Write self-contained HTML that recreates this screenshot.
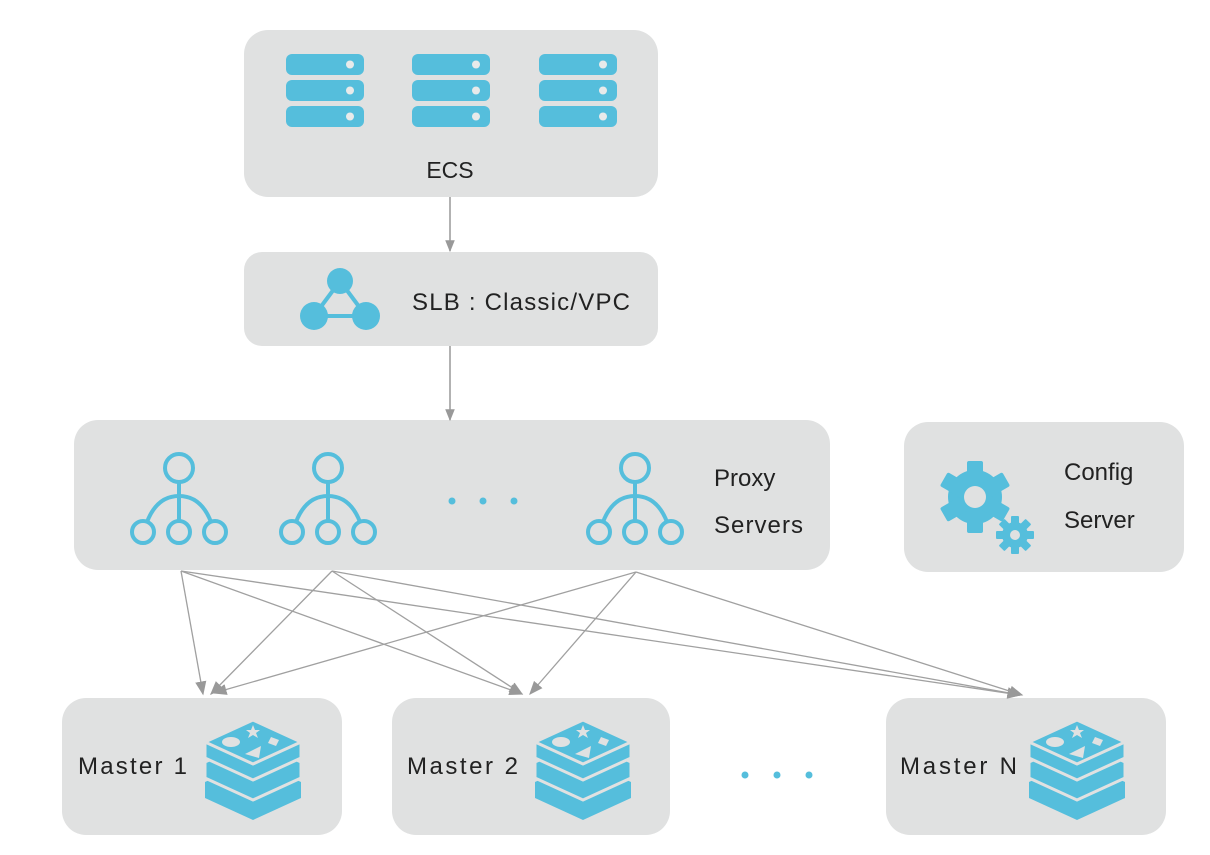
<!DOCTYPE html>
<html><head><meta charset="utf-8"><style>
body{margin:0;width:1210px;height:850px;background:#fff;overflow:hidden;font-family:"Liberation Sans",sans-serif}
</style></head><body>
<svg width="1210" height="850" viewBox="0 0 1210 850" xmlns="http://www.w3.org/2000/svg">
<defs>
<marker id="a" viewBox="0 0 10 10" refX="9" refY="5" markerWidth="12" markerHeight="12" orient="auto" markerUnits="userSpaceOnUse"><path d="M0,1L10,5L0,9z" fill="#999"/></marker>
<marker id="b" viewBox="0 0 10 10" refX="9" refY="5" markerWidth="14" markerHeight="14" orient="auto" markerUnits="userSpaceOnUse"><path d="M0,1L10,5L0,9z" fill="#999"/></marker>
<g id="srv"><rect x="0" y="0" width="78" height="21" rx="6" fill="#55bedc"/><circle cx="64" cy="10.5" r="4" fill="#e8eaea"/></g>
<g id="tree" fill="none" stroke="#55bedc" stroke-width="4"><circle cx="0" cy="-32" r="14"/><line x1="0" y1="-18" x2="0" y2="20"/><path d="M-32,22 Q-22,-4 0,-4 Q22,-4 32,22"/><circle cx="-36" cy="32" r="11" fill="#e0e1e1"/><circle cx="0" cy="32" r="11" fill="#e0e1e1"/><circle cx="36" cy="32" r="11" fill="#e0e1e1"/></g>
<g id="redis"><path d="M-48,14 L0,-8 L48,14 L48,30 L0,52 L-48,30Z" fill="#55bedc"/><path d="M-48,-6 L0,-28 L48,-6 L48,10 L0,32 L-48,10Z" fill="#55bedc" stroke="#e0e1e1" stroke-width="3"/><path d="M-48,-26 L0,-48 L48,-26 L48,-10 L0,12 L-48,-10Z" fill="#55bedc" stroke="#e0e1e1" stroke-width="3"/><path d="M0,-48 L48,-26 L0,-4 L-48,-26Z" fill="#55bedc" stroke="#e0e1e1" stroke-width="3"/><ellipse cx="-22" cy="-26" rx="9" ry="5" fill="#e0e1e1"/><path d="M0,-43 l2,5 5,0 -4,3 2,5 -5,-3 -5,3 2,-5 -4,-3 5,0z" fill="#e0e1e1"/><path d="M18,-31 l8,3 -3,6 -8,-3z" fill="#e0e1e1"/><path d="M-8,-14 L8,-22 L6,-10Z" fill="#e0e1e1"/></g>
</defs>
<g fill="#e0e1e1">
<rect x="244" y="30" width="414" height="167" rx="24"/>
<rect x="244" y="252" width="414" height="94" rx="18"/>
<rect x="74" y="420" width="756" height="150" rx="24"/>
<rect x="904" y="422" width="280" height="150" rx="24"/>
<rect x="62" y="698" width="280" height="137" rx="24"/>
<rect x="392" y="698" width="278" height="137" rx="24"/>
<rect x="886" y="698" width="280" height="137" rx="24"/>
</g>
<g>
<use href="#srv" x="286" y="54"/><use href="#srv" x="286" y="80"/><use href="#srv" x="286" y="106"/>
<use href="#srv" x="412" y="54"/><use href="#srv" x="412" y="80"/><use href="#srv" x="412" y="106"/>
<use href="#srv" x="539" y="54"/><use href="#srv" x="539" y="80"/><use href="#srv" x="539" y="106"/>
</g>
<text x="450" y="178" font-size="23" text-anchor="middle" fill="#222">ECS</text>
<g stroke="#55bedc" stroke-width="4"><line x1="340" y1="281" x2="314" y2="316"/><line x1="340" y1="281" x2="366" y2="316"/><line x1="314" y1="316" x2="366" y2="316"/></g>
<g fill="#55bedc"><circle cx="340" cy="281" r="13"/><circle cx="314" cy="316" r="14"/><circle cx="366" cy="316" r="14"/></g>
<text x="412" y="310" font-size="24" fill="#222" textLength="218">SLB : Classic/VPC</text>
<use href="#tree" x="179" y="500"/><use href="#tree" x="328" y="500"/><use href="#tree" x="635" y="500"/>
<g fill="#55bedc"><circle cx="452" cy="501" r="3.5"/><circle cx="483" cy="501" r="3.5"/><circle cx="514" cy="501" r="3.5"/>
<circle cx="745" cy="775" r="3.5"/><circle cx="777" cy="775" r="3.5"/><circle cx="809" cy="775" r="3.5"/></g>
<text x="714" y="486" font-size="24" fill="#222">Proxy</text>
<text x="714" y="533" font-size="24" fill="#222" textLength="89">Servers</text>
<g fill="#55bedc">
<circle cx="975" cy="497" r="27"/>
<g transform="translate(975,497)"><rect x="-8" y="-36" width="16" height="72" rx="2"/><rect x="-8" y="-36" width="16" height="72" rx="2" transform="rotate(60)"/><rect x="-8" y="-36" width="16" height="72" rx="2" transform="rotate(120)"/></g>
<circle cx="1015" cy="535" r="13"/>
<g transform="translate(1015,535)"><rect x="-4" y="-19" width="8" height="38" rx="1"/><rect x="-4" y="-19" width="8" height="38" rx="1" transform="rotate(45)"/><rect x="-4" y="-19" width="8" height="38" rx="1" transform="rotate(90)"/><rect x="-4" y="-19" width="8" height="38" rx="1" transform="rotate(135)"/></g>
</g>
<circle cx="975" cy="497" r="11" fill="#e0e1e1"/><circle cx="1015" cy="535" r="5" fill="#e0e1e1"/>
<text x="1064" y="480" font-size="24" fill="#222">Config</text>
<text x="1064" y="528" font-size="24" fill="#222">Server</text>
<text x="78" y="774" font-size="24" fill="#222" textLength="109">Master 1</text>
<text x="407" y="774" font-size="24" fill="#222" textLength="111">Master 2</text>
<text x="900" y="774" font-size="24" fill="#222" textLength="117">Master N</text>
<use href="#redis" x="253" y="768"/><use href="#redis" x="583" y="768"/><use href="#redis" x="1077" y="768"/>
<g stroke="#999" stroke-width="1.5" fill="none">
<line x1="450" y1="197" x2="450" y2="251" marker-end="url(#a)"/>
<line x1="450" y1="346" x2="450" y2="420" marker-end="url(#a)"/>
</g>
<g stroke="#a0a0a0" stroke-width="1.3" fill="none" marker-end="url(#b)">
<line x1="181" y1="571" x2="203" y2="694"/>
<line x1="181" y1="571" x2="522" y2="694"/>
<line x1="181" y1="571" x2="1020" y2="695"/>
<line x1="332" y1="571" x2="211" y2="694"/>
<line x1="332" y1="571" x2="522" y2="694"/>
<line x1="332" y1="571" x2="1020" y2="695"/>
<line x1="636" y1="572" x2="214" y2="693"/>
<line x1="636" y1="572" x2="530" y2="694"/>
<line x1="636" y1="572" x2="1022" y2="695"/>
</g>
</svg>
</body></html>
